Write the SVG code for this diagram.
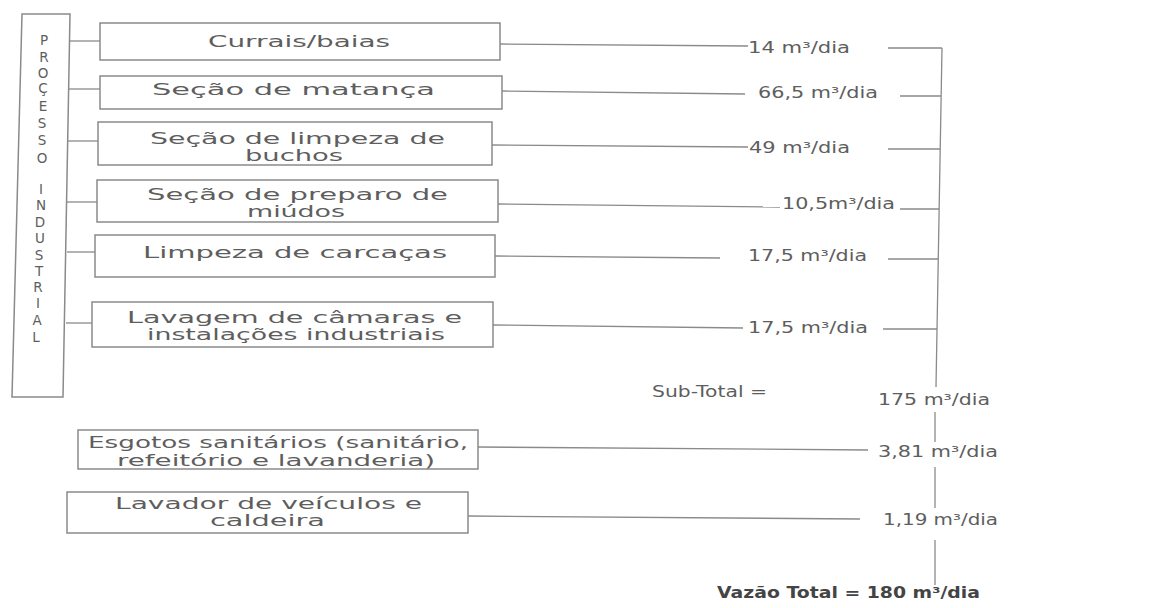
<svg xmlns="http://www.w3.org/2000/svg" width="1175" height="608" viewBox="0 0 1175 608">
<style>
.bx{fill:#fff;stroke:#8a8a8a;stroke-width:1.5}
.ln{stroke:#8a8a8a;stroke-width:1.3;fill:none}
.t{font-family:"DejaVu Sans",sans-serif;font-size:16px;fill:#5e5e5e}
.v{font-family:"DejaVu Sans",sans-serif;font-size:15px;fill:#5e5e5e}
.lt{font-family:"DejaVu Sans",sans-serif;font-size:13.5px;fill:#5e5e5e;text-anchor:middle}
.b{font-family:"DejaVu Sans",sans-serif;font-size:15px;font-weight:bold;fill:#444}
</style>
<rect width="1175" height="608" fill="#fff"/>
<g id="processo-industrial">
<polygon class="bx" points="22,14 70,14 63,397 12,397"/>
<text class="lt" x="44" y="45">P</text>
<text class="lt" x="44" y="62">R</text>
<text class="lt" x="43" y="78">O</text>
<text class="lt" x="43" y="93">Ç</text>
<text class="lt" x="43" y="111">E</text>
<text class="lt" x="42" y="128">S</text>
<text class="lt" x="42" y="145">S</text>
<text class="lt" x="42" y="163">O</text>
<text class="lt" x="41" y="194">I</text>
<text class="lt" x="41" y="210">N</text>
<text class="lt" x="40" y="227">D</text>
<text class="lt" x="40" y="243">U</text>
<text class="lt" x="39" y="260">S</text>
<text class="lt" x="39" y="276">T</text>
<text class="lt" x="38" y="292">R</text>
<text class="lt" x="38" y="308">I</text>
<text class="lt" x="37" y="325">A</text>
<text class="lt" x="36" y="342">L</text>
</g>
<g id="currais">
<rect class="bx" x="100" y="23" width="400" height="37"/>
<text class="t" x="208" y="47" textLength="182" lengthAdjust="spacingAndGlyphs">Currais/baias</text>
</g>
<g id="matanca">
<rect class="bx" x="100" y="76" width="402" height="33"/>
<text class="t" x="152" y="95" textLength="283" lengthAdjust="spacingAndGlyphs">Seção de matança</text>
</g>
<g id="buchos">
<rect class="bx" x="98" y="122" width="394" height="43"/>
<text class="t" x="150" y="144" textLength="295" lengthAdjust="spacingAndGlyphs">Seção de limpeza de</text>
<text class="t" x="245" y="161" textLength="98" lengthAdjust="spacingAndGlyphs">buchos</text>
</g>
<g id="miudos">
<rect class="bx" x="97" y="180" width="401" height="42"/>
<text class="t" x="147" y="200" textLength="301" lengthAdjust="spacingAndGlyphs">Seção de preparo de</text>
<text class="t" x="247" y="217" textLength="98" lengthAdjust="spacingAndGlyphs">miúdos</text>
</g>
<g id="carcacas">
<rect class="bx" x="95" y="235" width="400" height="42"/>
<text class="t" x="143" y="258" textLength="304" lengthAdjust="spacingAndGlyphs">Limpeza de carcaças</text>
</g>
<g id="lavagem">
<rect class="bx" x="92" y="302" width="401" height="45"/>
<text class="t" x="127" y="323" textLength="335" lengthAdjust="spacingAndGlyphs">Lavagem de câmaras e</text>
<text class="t" x="147" y="340" textLength="298" lengthAdjust="spacingAndGlyphs">instalações industriais</text>
</g>
<g id="esgotos">
<rect class="bx" x="78" y="430" width="400" height="39"/>
<text class="t" x="88" y="448" textLength="380" lengthAdjust="spacingAndGlyphs">Esgotos sanitários (sanitário,</text>
<text class="t" x="117" y="466" textLength="318" lengthAdjust="spacingAndGlyphs">refeitório e lavanderia)</text>
</g>
<g id="lavador">
<rect class="bx" x="67" y="492" width="401" height="41"/>
<text class="t" x="115" y="509" textLength="307" lengthAdjust="spacingAndGlyphs">Lavador de veículos e</text>
<text class="t" x="210" y="526" textLength="115" lengthAdjust="spacingAndGlyphs">caldeira</text>
</g>
<g id="labels">
<text class="v" x="748" y="53" textLength="102" lengthAdjust="spacingAndGlyphs">14 m³/dia</text>
<text class="v" x="758" y="98" textLength="120" lengthAdjust="spacingAndGlyphs">66,5 m³/dia</text>
<text class="v" x="749" y="153" textLength="101" lengthAdjust="spacingAndGlyphs">49 m³/dia</text>
<text class="v" x="782" y="209" textLength="113" lengthAdjust="spacingAndGlyphs">10,5m³/dia</text>
<text class="v" x="748" y="261" textLength="119" lengthAdjust="spacingAndGlyphs">17,5 m³/dia</text>
<text class="v" x="748" y="333" textLength="120" lengthAdjust="spacingAndGlyphs">17,5 m³/dia</text>
<text class="v" x="652" y="397" textLength="115" lengthAdjust="spacingAndGlyphs">Sub-Total =</text>
<text class="v" x="878" y="405" textLength="112" lengthAdjust="spacingAndGlyphs">175 m³/dia</text>
<text class="v" x="878" y="457" textLength="120" lengthAdjust="spacingAndGlyphs">3,81 m³/dia</text>
<text class="v" x="883" y="525" textLength="115" lengthAdjust="spacingAndGlyphs">1,19 m³/dia</text>
<text class="b" x="717" y="598" textLength="263" lengthAdjust="spacingAndGlyphs">Vazão Total = 180 m³/dia</text>
</g>
<g id="connectors">
<line class="ln" x1="70" y1="41" x2="100" y2="41"/>
<line class="ln" x1="69" y1="89" x2="100" y2="89"/>
<line class="ln" x1="68" y1="141" x2="98" y2="141"/>
<line class="ln" x1="67" y1="202" x2="97" y2="202"/>
<line class="ln" x1="67" y1="252" x2="95" y2="252"/>
<line class="ln" x1="66" y1="323" x2="92" y2="323"/>
<line class="ln" x1="500" y1="44" x2="748" y2="46"/>
<line class="ln" x1="502" y1="91" x2="745" y2="94"/>
<line class="ln" x1="492" y1="145" x2="748" y2="147"/>
<line class="ln" x1="498" y1="204" x2="780" y2="207"/>
<line class="ln" x1="495" y1="256" x2="720" y2="258"/>
<line class="ln" x1="493" y1="325" x2="743" y2="328"/>
<line class="ln" x1="478" y1="447" x2="868" y2="450"/>
<line class="ln" x1="468" y1="516" x2="860" y2="519"/>
<line class="ln" x1="888" y1="48" x2="942" y2="48"/>
<line class="ln" x1="900" y1="96" x2="941" y2="96"/>
<line class="ln" x1="888" y1="149" x2="940" y2="149"/>
<line class="ln" x1="900" y1="209" x2="939" y2="209"/>
<line class="ln" x1="888" y1="259" x2="938" y2="259"/>
<line class="ln" x1="883" y1="329" x2="937" y2="329"/>
<line class="ln" x1="942" y1="48" x2="936" y2="387"/>
<line class="ln" x1="935" y1="412" x2="935" y2="442"/>
<line class="ln" x1="935" y1="467" x2="935" y2="508"/>
<line class="ln" x1="935" y1="540" x2="935" y2="585"/>
</g>
</svg>
